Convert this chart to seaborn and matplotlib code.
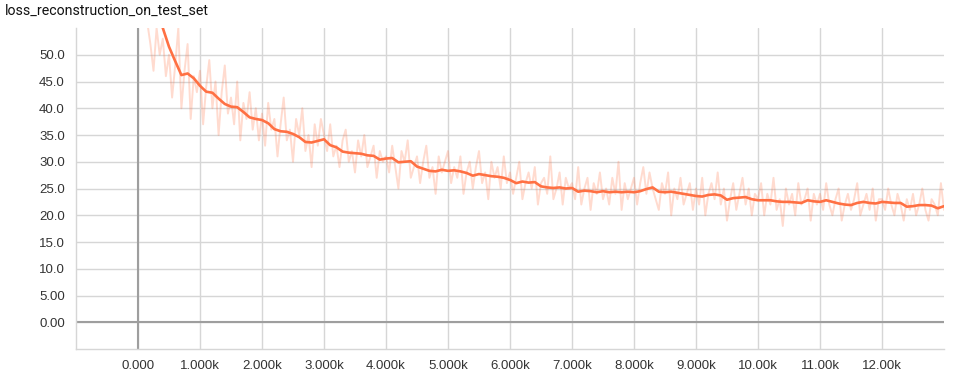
import numpy as np
import pandas as pd
import matplotlib
matplotlib.use("Agg")
import matplotlib.pyplot as plt
import seaborn as sns
from matplotlib.ticker import FuncFormatter, MultipleLocator

title = "loss_reconstruction_on_test_set"

# smoothed series, one value every 100 steps (0 .. 13000)
smooth_steps = list(range(0, 13001, 100))
smooth_vals = [
    90, 74, 64, 58, 55, 51.5, 48.8, 46.2, 46.5, 45.6,
    44.2, 43.1, 42.9, 41.8, 40.8, 40.3, 40.2, 39.3, 38.3, 38.0,
    37.8, 37.2, 36.1, 35.7, 35.6, 35.2, 34.6, 33.7, 33.6, 33.9,
    34.2, 33.1, 32.7, 31.9, 31.7, 31.6, 31.5, 31.2, 31.1, 30.4,
    30.6, 30.7, 29.9, 30.0, 30.1, 29.1, 28.7, 28.3, 28.2, 28.5,
    28.3, 28.4, 28.2, 27.9, 27.4, 27.7, 27.5, 27.3, 27.2, 27.0,
    26.6, 26.0, 26.3, 26.1, 26.2, 25.4, 25.2, 25.1, 25.2, 25.0,
    25.1, 24.4, 24.6, 24.5, 24.3, 24.5, 24.3, 24.4, 24.3, 24.4,
    24.3, 24.5, 24.9, 25.2, 24.4, 24.3, 24.4, 24.2, 24.0, 23.8,
    23.6, 23.5, 23.8, 23.9, 23.7, 22.9, 23.2, 23.3, 23.4, 23.0,
    22.8, 22.8, 22.8, 22.6, 22.5, 22.5, 22.4, 22.3, 22.8, 22.6,
    22.5, 22.8, 22.5, 22.2, 22.0, 21.9, 22.3, 22.5, 22.3, 22.2,
    22.5, 22.4, 22.3, 22.3, 21.6, 21.7, 21.9, 21.9, 21.8, 21.3,
    21.7,
]

# raw series, one value every 50 steps (0 .. 13000)
raw_steps = list(range(0, 13001, 50))
raw_vals = [
    160, 75, 60, 56, 52, 47, 55, 50, 53, 46, 50, 42, 48, 55, 40, 47, 52, 38, 46, 43,
    47, 37, 44, 49, 40, 45, 35, 43, 48, 39, 42, 37, 45, 34, 41, 38, 43, 36, 40, 34,
    39, 33, 41, 36, 38, 31, 37, 42, 34, 36, 30, 38, 35, 40, 32, 35, 29, 37, 33, 38,
    35, 32, 37, 31, 33, 29, 34, 36, 30, 32, 28, 34, 31, 35, 29, 31, 33, 27, 32, 30,
    31, 28, 33, 29, 25, 32, 30, 34, 27, 29, 31, 26, 30, 33, 27, 29, 24, 31, 28, 30,
    32, 26, 29, 27, 31, 24, 28, 30, 25, 29, 32, 26, 28, 23, 30, 27, 29, 25, 31, 26,
    28, 24, 27, 30, 23, 26, 28, 25, 29, 22, 26, 27, 24, 31, 23, 25, 28, 22, 27, 25,
    26, 23, 29, 22, 25, 27, 21, 26, 24, 28, 23, 25, 22, 27, 24, 30, 21, 26, 23, 25,
    27, 22, 26, 29, 24, 28, 25, 23, 21, 26, 24, 28, 20, 25, 23, 27, 22, 24, 26, 21,
    25, 22, 27, 20, 24, 26, 23, 28, 22, 25, 19, 23, 26, 21, 24, 27, 22, 25, 20, 24,
    23, 26, 20, 24, 22, 27, 21, 23, 18, 25, 22, 24, 20, 26, 22, 23, 25, 19, 24, 22,
    24, 21, 26, 22, 20, 23, 25, 19, 22, 24, 21, 23, 26, 20, 22, 24, 21, 25, 19, 23,
    23, 21, 25, 22, 20, 24, 22, 19, 23, 21, 24, 20, 22, 25, 21, 19, 23, 22, 20, 26, 21,
]

smooth_df = pd.DataFrame({"step": smooth_steps, "value": smooth_vals})
raw_df = pd.DataFrame({"step": raw_steps, "value": raw_vals})

sns.set_theme(style="white")
plt.rcParams["font.family"] = ["Liberation Sans", "DejaVu Sans"]

color = "#ff7043"
fig = plt.figure(figsize=(9.54, 3.72), dpi=100)
ax = fig.add_axes([76 / 954, 1 - 349 / 372, (944 - 76) / 954, (349 - 28) / 372])

sns.lineplot(data=raw_df, x="step", y="value", ax=ax, color=color, alpha=0.25,
             linewidth=1.4, zorder=3)
sns.lineplot(data=smooth_df, x="step", y="value", ax=ax, color=color,
             linewidth=1.9, zorder=4)

ax.set_xlim(-1000, 13000)
ax.set_ylim(-5, 55)
ax.set_xticks(list(range(0, 12001, 1000)))
ax.set_yticks(list(range(0, 51, 5)))


def xfmt(v, pos):
    if v == 0:
        return "0.000"
    return format(v / 1000, "#.4g") + "k"


def yfmt(v, pos):
    return format(v, "#.3g")


ax.xaxis.set_major_formatter(FuncFormatter(xfmt))
ax.yaxis.set_major_formatter(FuncFormatter(yfmt))

ax.grid(True, color="#d6d6d6", linewidth=1.0, zorder=0)
ax.axvline(0, color="#9e9e9e", linewidth=1.5, zorder=2)
ax.axhline(0, color="#9e9e9e", linewidth=1.5, zorder=2)

for s in ["top", "right"]:
    ax.spines[s].set_visible(False)
for s in ["left", "bottom"]:
    ax.spines[s].set_color("#d6d6d6")
    ax.spines[s].set_linewidth(1.0)

ax.tick_params(axis="x", length=3, color="#d6d6d6", pad=5, labelsize=9.5,
               labelcolor="#333333")
ax.tick_params(axis="y", length=0, pad=8, labelsize=9.5, labelcolor="#333333")
ax.set_xlabel("")
ax.set_ylabel("")

fig.text(5 / 954, 1 - 11 / 372, title, fontsize=10.2, color="#111111",
         ha="left", va="center", family=["Roboto", "DejaVu Sans"])

fig.savefig("out.png", dpi=100)
